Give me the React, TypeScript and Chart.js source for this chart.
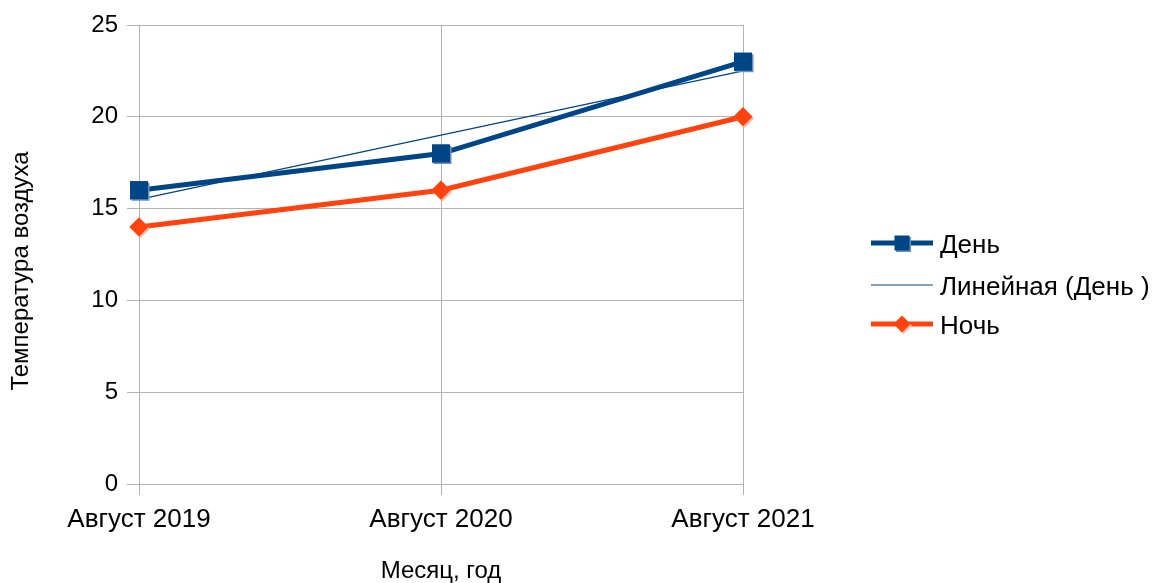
import React, { useEffect, useRef } from "react";
import { Chart, registerables } from "chart.js";

Chart.register(...registerables);

// Air temperature in August, by year
const months = ["Август 2019", "Август 2020", "Август 2021"];
const dayTemps = [16, 18, 23];
const dayTrend = [15.5, 19, 22.5];
const nightTemps = [14, 16, 20];
const yTicks = [0, 5, 10, 15, 20, 25];

const seriesNames = ["День", "Линейная (День )", "Ночь"];
const axisTitleX = "Месяц, год";
const axisTitleY = "Температура воздуха";

const BLUE = "#004586";
const BLUE_EDGE = "#6a90bf";
const ORANGE = "#ff420e";
const ORANGE_EDGE = "#ffb49f";
const GRID = "#b3b3b3";
const FONT = "'Liberation Sans', Arial, sans-serif";

const W = 1152;
const H = 583;

function drawMarker(ctx: CanvasRenderingContext2D, kind: string, x: number, y: number, r: number, color: string) {
  ctx.save();
  ctx.fillStyle = color;
  ctx.beginPath();
  if (kind === "rect") {
    ctx.rect(x - r, y - r, 2 * r, 2 * r);
  } else {
    ctx.moveTo(x - r, y);
    ctx.lineTo(x, y - r);
    ctx.lineTo(x + r, y);
    ctx.lineTo(x, y + r);
    ctx.closePath();
  }
  ctx.fill();
  ctx.restore();
}

// Markers with a light bevel on the lower-right edge
function bevelMarker(ctx: CanvasRenderingContext2D, kind: string, x: number, y: number, r: number, color: string, edge: string) {
  drawMarker(ctx, kind, x + 1.5, y + 1.5, r, edge);
  drawMarker(ctx, kind, x, y, r, color);
}

const markerBevel = {
  id: "markerBevel",
  afterDatasetsDraw(chart: Chart) {
    const ctx = chart.ctx;
    const dayMeta = chart.getDatasetMeta(1);
    const nightMeta = chart.getDatasetMeta(2);
    for (const p of dayMeta.data) bevelMarker(ctx, "rect", p.x, p.y, 9, BLUE, BLUE_EDGE);
    for (const p of nightMeta.data) bevelMarker(ctx, "diamond", p.x, p.y, 9.5, ORANGE, ORANGE_EDGE);
  },
};

// Axis titles and a side legend drawn at fixed spots around the plot
const decorations = {
  id: "decorations",
  afterDraw(chart: Chart) {
    const ctx = chart.ctx;
    const area = chart.chartArea;
    ctx.save();
    ctx.fillStyle = "#000";
    ctx.textAlign = "center";
    ctx.textBaseline = "alphabetic";
    ctx.font = `24px ${FONT}`;
    ctx.fillText(axisTitleX, (area.left + area.right) / 2, 578);

    ctx.save();
    ctx.translate(28, 271);
    ctx.rotate(-Math.PI / 2);
    ctx.font = `24px ${FONT}`;
    ctx.fillText(axisTitleY, 0, 0);
    ctx.restore();

    // legend
    const legend = [
      { name: seriesNames[0], color: BLUE, edge: BLUE_EDGE, width: 5, marker: "rect", y: 243 },
      { name: seriesNames[1], color: BLUE, edge: BLUE_EDGE, width: 1, marker: "", y: 285 },
      { name: seriesNames[2], color: ORANGE, edge: ORANGE_EDGE, width: 5, marker: "diamond", y: 324 },
    ];
    ctx.textAlign = "left";
    ctx.font = `26px ${FONT}`;
    for (const item of legend) {
      ctx.strokeStyle = item.color;
      ctx.lineWidth = item.width;
      ctx.beginPath();
      ctx.moveTo(871, item.y);
      ctx.lineTo(933, item.y);
      ctx.stroke();
      if (item.marker === "rect") bevelMarker(ctx, "rect", 902, item.y, 7.5, item.color, item.edge);
      if (item.marker === "diamond") bevelMarker(ctx, "diamond", 902, item.y, 8.5, item.color, item.edge);
      ctx.fillStyle = "#000";
      ctx.fillText(item.name, 940, item.y + 10);
    }
    ctx.restore();
  },
};

export default function App() {
  const canvasRef = useRef<HTMLCanvasElement | null>(null);

  useEffect(() => {
    if (!canvasRef.current) return;
    const chart = new Chart(canvasRef.current, {
      type: "line",
      data: {
        labels: months,
        datasets: [
          {
            label: seriesNames[1],
            data: dayTrend,
            borderColor: BLUE,
            borderWidth: 1.2,
            pointRadius: 0,
            tension: 0,
            order: 0,
          },
          {
            label: seriesNames[0],
            data: dayTemps,
            borderColor: BLUE,
            backgroundColor: BLUE,
            borderWidth: 5,
            pointStyle: "rect",
            pointRadius: 12.7,
            pointBorderWidth: 0,
            tension: 0,
            order: 1,
          },
          {
            label: seriesNames[2],
            data: nightTemps,
            borderColor: ORANGE,
            backgroundColor: ORANGE,
            borderWidth: 5,
            pointStyle: "rectRot",
            pointRadius: 9.5,
            pointBorderWidth: 0,
            tension: 0,
            order: 2,
          },
        ],
      },
      options: {
        animation: false,
        responsive: false,
        layout: { padding: { left: 0, top: 25, right: W - 743, bottom: 0 } },
        plugins: {
          legend: { display: false },
          tooltip: { enabled: false },
        },
        scales: {
          x: {
            offset: false,
            grid: { color: GRID, lineWidth: 1, tickLength: 11, drawTicks: true },
            border: { color: GRID, width: 1 },
            ticks: {
              color: "#000",
              font: { family: FONT, size: 26 },
              padding: 9,
              maxRotation: 0,
              autoSkip: false,
            },
            afterFit(scale: any) {
              scale.height = H - 484;
            },
          },
          y: {
            min: 0,
            max: 25,
            afterBuildTicks(scale: any) {
              scale.ticks = yTicks.map((v) => ({ value: v }));
            },
            grid: { color: GRID, lineWidth: 1, tickLength: 12, drawTicks: true },
            border: { color: GRID, width: 1 },
            ticks: {
              color: "#000",
              font: { family: FONT, size: 24 },
              padding: 9,
            },
            afterFit(scale: any) {
              scale.width = 139;
            },
          },
        },
      },
      plugins: [markerBevel, decorations],
    });
    return () => chart.destroy();
  }, []);

  return (
    <div style={{ position: "fixed", left: 0, top: 0, width: W, height: H, background: "#fff" }}>
      <canvas ref={canvasRef} width={W} height={H} style={{ display: "block" }} />
    </div>
  );
}
